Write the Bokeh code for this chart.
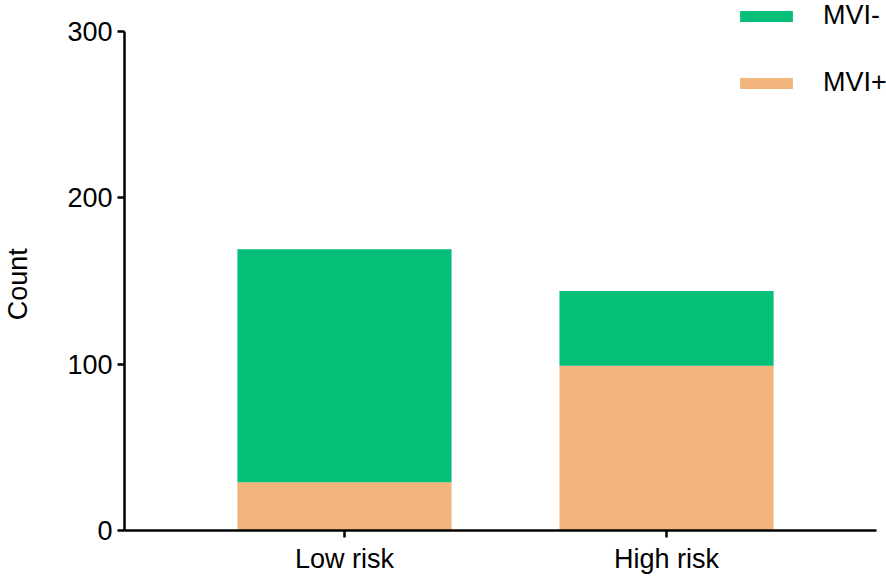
from bokeh.plotting import figure
from bokeh.models import FactorRange, Range1d, Legend, LegendItem, ColumnDataSource, FixedTicker
from bokeh.embed import file_html
from bokeh.resources import INLINE

categories = ["Low risk", "High risk"]
mvi_pos = [29, 99]
mvi_neg = [140, 45]
series = ["MVI+", "MVI-"]
colors = ["#F2B57E", "#05BE78"]
y_ticks = [0, 100, 200, 300]

source = ColumnDataSource(data={"cat": categories, "MVI+": mvi_pos, "MVI-": mvi_neg})

FONT = "Liberation Sans"
FS = "27px"

p = figure(width=886, height=579, output_backend="svg", toolbar_location=None,
           x_range=FactorRange(factors=categories, range_padding=0.183),
           y_range=Range1d(0, 318.6),
           min_border_left=124, min_border_right=0, min_border_top=0, min_border_bottom=49)

rs = p.vbar_stack(series, x="cat", width=0.665, source=source, color=colors, line_color=None)

p.grid.visible = False
p.outline_line_color = None
p.background_fill_color = "white"
p.border_fill_color = "white"

for ax in (p.xaxis[0], p.yaxis[0]):
    ax.axis_line_width = 2.5
    ax.axis_line_color = "black"
    ax.major_tick_line_width = 2.5
    ax.major_tick_line_color = "black"
    ax.major_tick_out = 7
    ax.major_tick_in = 0
    ax.minor_tick_line_color = None
    ax.major_label_text_font = FONT
    ax.major_label_text_font_size = FS
    ax.major_label_text_color = "black"
    ax.axis_label_text_font = FONT
    ax.axis_label_text_font_size = FS
    ax.axis_label_text_font_style = "normal"
    ax.axis_label_text_color = "black"

p.yaxis[0].ticker = FixedTicker(ticks=y_ticks)
p.yaxis[0].bounds = (0, 300)
p.yaxis[0].axis_label = "Count" + "\u00a0" * 5
p.yaxis[0].major_label_standoff = 5
p.yaxis[0].axis_label_standoff = 31
p.xaxis[0].major_label_standoff = 6
p.xaxis[0].bounds = (-0.183, 2.152)

legend = Legend(items=[LegendItem(label="MVI-", renderers=[rs[1]]),
                       LegendItem(label="MVI+", renderers=[rs[0]])],
                location=(609, 432), orientation="vertical",
                glyph_width=66, glyph_height=14, label_height=30,
                label_standoff=24, spacing=36, padding=0, margin=0,
                border_line_color=None, background_fill_alpha=0,
                label_text_font=FONT, label_text_font_size=FS,
                label_text_color="black")
p.add_layout(legend, "center")

open("out.html", "w").write(file_html(p, INLINE))
